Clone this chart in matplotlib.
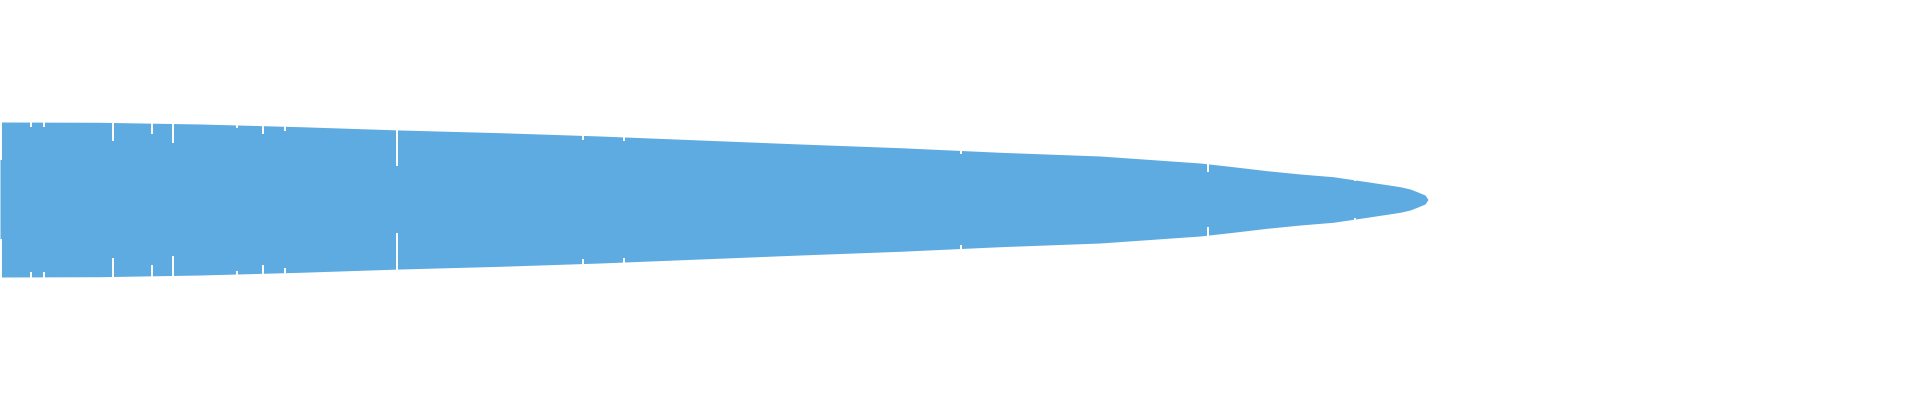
import numpy as np
import matplotlib.pyplot as plt

# outline of the shape: position along x and half-width
positions = [0, 100, 200, 300, 400, 500, 600, 700, 800, 900, 1000, 1100,
             1200, 1233, 1267, 1300, 1333, 1367, 1400, 1410, 1417, 1425, 1428]
half_width = [77.5, 77.2, 75.5, 72.8, 69.5, 66.8, 63.5, 59.5, 55.5, 51.8, 47.2,
              43.5, 36.5, 32.8, 28.8, 25.5, 22.8, 17.8, 12.8, 10.5, 7.8, 4.5, 0.0]

# white notches cut in from both edges
notch_pos = [0.5, 31, 44, 113, 152, 173, 237, 263, 285, 397, 583, 624, 961, 1208, 1355]
notch_depth = [38, 5, 5, 18, 11, 19, 3, 8, 5, 36, 5, 4, 3, 8, 1.5]

color = '#5dabe1'
center = 199.5

fig = plt.figure(figsize=(19.2, 4), dpi=100)
ax = fig.add_axes([0, 0, 1, 1])

pos = np.array(positions)
hw = np.array(half_width)
ax.fill_between(pos, center - hw, center + hw, color=color, linewidth=0)

for x, d in zip(notch_pos, notch_depth):
    edge = np.interp(x, pos, hw)
    ax.plot([x, x], [center - edge - 1, center - edge + d], color='white', lw=1.4,
            solid_capstyle='butt')
    ax.plot([x, x], [center + edge - d, center + edge + 1], color='white', lw=1.4,
            solid_capstyle='butt')

ax.set_xlim(0, 1920)
ax.set_ylim(400, 0)
ax.axis('off')

fig.savefig('out.png', dpi=100, facecolor='white')
